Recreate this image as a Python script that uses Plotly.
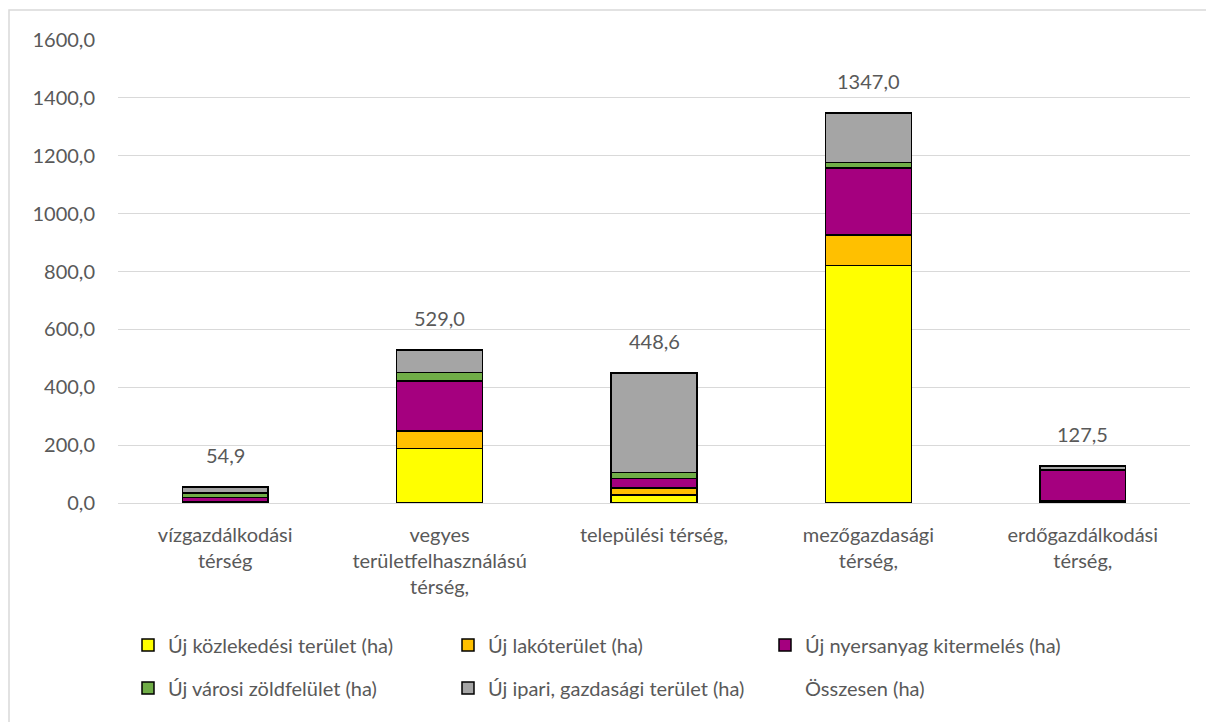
import plotly.graph_objects as go

categories = [
    "vízgazdálkodási<br>térség",
    "vegyes<br>területfelhasználású<br>térség,",
    "települési térség,",
    "mezőgazdasági<br>térség,",
    "erdőgazdálkodási<br>térség,",
]

kozlekedesi = [3.0, 188.0, 28.0, 820.0, 3.0]
lakoterulet = [2.0, 60.0, 23.0, 107.0, 5.0]
nyersanyag = [14.0, 173.0, 34.0, 230.0, 105.0]
zoldfelulet = [15.0, 30.0, 20.0, 19.0, 2.0]
ipari = [20.9, 78.0, 343.6, 171.0, 12.5]
osszesen = [54.9, 529.0, 448.6, 1347.0, 127.5]

series_names = [
    "Új közlekedési terület (ha)",
    "Új lakóterület (ha)",
    "Új nyersanyag kitermelés (ha)",
    "Új városi zöldfelület (ha)",
    "Új ipari, gazdasági terület (ha)",
]
series_values = [kozlekedesi, lakoterulet, nyersanyag, zoldfelulet, ipari]
series_colors = ["#FFFF00", "#FFC000", "#A5007F", "#70AD47", "#A5A5A5"]

FONT = "Lato"
TXT = "#595959"
FS = 20

# page body has an 8px margin; figure sized to fit the window exactly
W, H = 1206, 714
OFF = 8
PL, PR, PT, PB = 118 - OFF, 1190 - OFF, 40 - OFF, 503 - OFF

legend_ids = ["legend", "legend2", "legend3", "legend4", "legend5", "legend6"]
marker_x = [143, 463, 780, 143, 463, 780]
row_y = [645, 645, 645, 688, 688, 688]

fig = go.Figure()
for i, (name, vals, col) in enumerate(zip(series_names, series_values, series_colors)):
    fig.add_trace(go.Bar(
        x=categories, y=vals, name=name,
        marker=dict(color=col, line=dict(color="#000000", width=1.5)),
        legend=legend_ids[i],
    ))

fig.add_trace(go.Scatter(
    x=categories, y=osszesen, name="Összesen (ha)", mode="lines",
    line=dict(color="rgba(0,0,0,0)", width=0), legend=legend_ids[5],
    hoverinfo="skip",
))

for c, t in zip(categories, osszesen):
    fig.add_annotation(
        x=c, y=t, text=f"{t:.1f}".replace(".", ","), showarrow=False,
        yanchor="middle", yshift=32, font=dict(family=FONT, size=FS, color=TXT),
    )

# outer chart border (left and top visible)
pw, ph = PR - PL, PB - PT
fig.add_shape(type="rect", xref="paper", yref="paper",
              x0=(9 - OFF - PL) / pw, x1=(W + 30 - PL) / pw,
              y0=(PB - (H + 40)) / ph, y1=(PB - (10 - OFF)) / ph,
              line=dict(color="#D9D9D9", width=1.5), layer="below")

legends = {}
for lid, mx, ry in zip(legend_ids, marker_x, row_y):
    legends[lid] = dict(
        orientation="h", xref="container", yref="container",
        xanchor="left", yanchor="middle",
        x=(mx - OFF - 15) / W, y=1 - (ry - OFF) / H,
        font=dict(family=FONT, size=FS, color=TXT),
        bgcolor="rgba(0,0,0,0)",
    )

fig.update_layout(
    width=W, height=H,
    margin=dict(l=PL, r=W - PR, t=PT, b=H - PB, autoexpand=False),
    paper_bgcolor="white", plot_bgcolor="white",
    barmode="stack", bargap=0.6,
    separators=",.",
    font=dict(family=FONT, size=FS, color=TXT),
    xaxis=dict(showgrid=False, showline=False, ticks="outside", ticklen=14, automargin=False,
               tickcolor="rgba(0,0,0,0)", tickfont=dict(family=FONT, size=FS, color=TXT)),
    yaxis=dict(range=[0, 1600], dtick=200, tickformat=".1f", showgrid=True, automargin=False,
               gridcolor="#D9D9D9", gridwidth=1, zeroline=True, zerolinecolor="#D9D9D9",
               zerolinewidth=1, ticks="outside", ticklen=18, tickcolor="rgba(0,0,0,0)",
               tickfont=dict(family=FONT, size=FS, color=TXT)),
    showlegend=True,
    **legends,
)

fig.write_html("out.html")
